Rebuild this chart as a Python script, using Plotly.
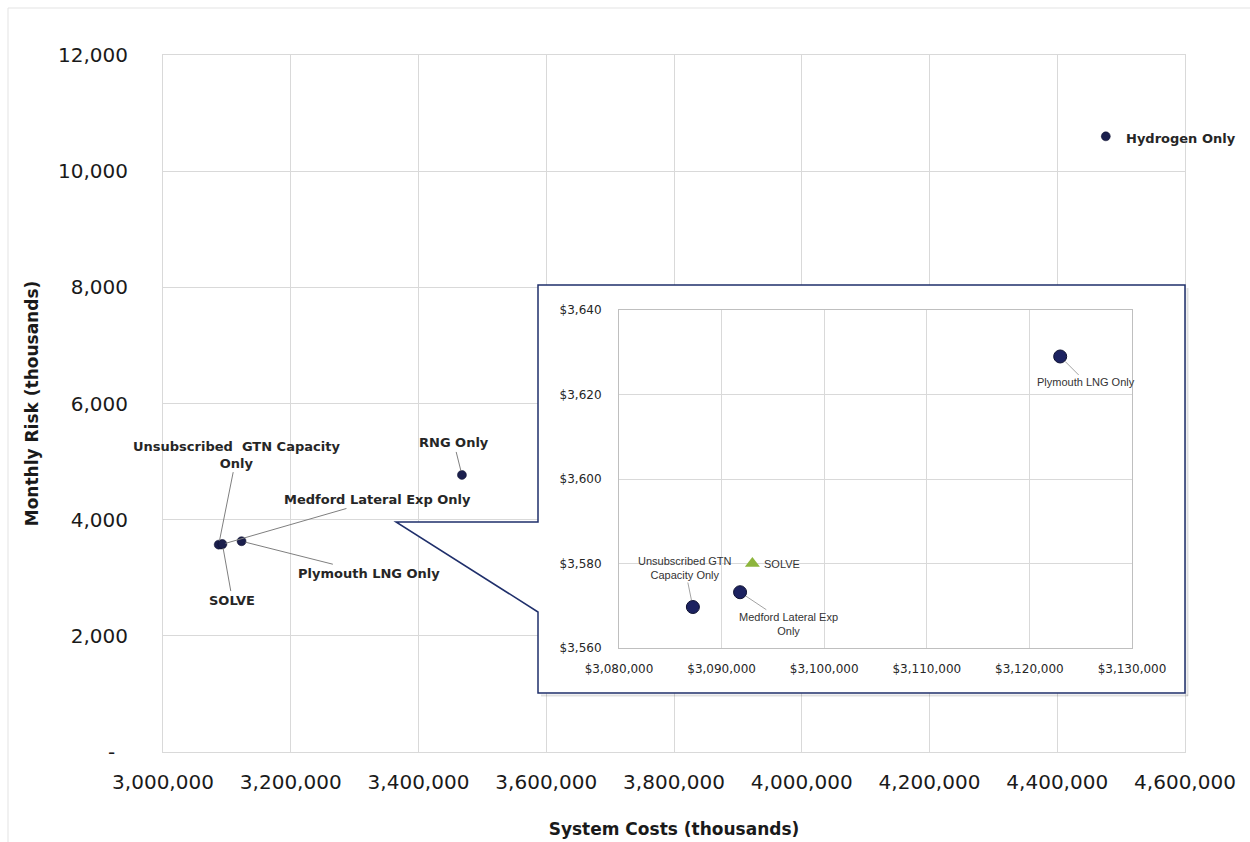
import plotly.graph_objects as go

# ---------------- data ----------------
names = ["Hydrogen Only", "RNG Only", "Plymouth LNG Only",
         "Medford Lateral Exp Only", "Unsubscribed GTN Capacity Only", "SOLVE"]
system_costs = [4476000, 3468000, 3123000, 3091800, 3087200, 3093000]
monthly_risk = [10600, 4770, 3629, 3573, 3570, 3580]

inset_names = ["Plymouth LNG Only", "Medford Lateral Exp Only", "Unsubscribed GTN Capacity Only"]
inset_costs = [3123000, 3091800, 3087200]
inset_risk = [3629, 3573.2, 3569.7]
solve_cost = [3093000]
solve_risk = [3580]

main_x_ticks = [3000000, 3200000, 3400000, 3600000, 3800000, 4000000, 4200000, 4400000, 4600000]
main_y_ticks = [0, 2000, 4000, 6000, 8000, 10000, 12000]
main_y_text = ["-\u00a0\u00a0", "2,000", "4,000", "6,000", "8,000", "10,000", "12,000"]
inset_x_ticks = [3080000, 3090000, 3100000, 3110000, 3120000, 3130000]
inset_y_ticks = [3560, 3580, 3600, 3620, 3640]
inset_x_text = ["&#36;{:,}".format(v) for v in inset_x_ticks]
inset_y_text = ["&#36;{:,}".format(v) for v in inset_y_ticks]

# ---------------- geometry helpers (pixel -> paper) ----------------
W, H = 1250, 842
L, R, T, B = 163, 1185, 55, 752


def px(p):
    return (p - L) / (R - L)


def py(p):
    return (B - p) / (B - T)


NAVY = "#1b1f4d"
GRID = "#d9d9d9"
TXT = "#262626"

fig = go.Figure()

# main scatter
fig.add_trace(go.Scatter(
    x=system_costs, y=monthly_risk, mode="markers", text=names,
    marker=dict(size=9, color=NAVY, line=dict(width=0.5, color="#0d0f2a")),
    xaxis="x", yaxis="y", showlegend=False, hoverinfo="text"))

# dummy subplot for the white callout box
fig.add_trace(go.Scatter(x=[], y=[], xaxis="x2", yaxis="y2", showlegend=False, hoverinfo="skip"))

# inset scatter
fig.add_trace(go.Scatter(
    x=inset_costs, y=inset_risk, mode="markers", text=inset_names,
    marker=dict(size=13, color="#1c2260", line=dict(width=1, color="#0d1030")),
    xaxis="x3", yaxis="y3", showlegend=False, hoverinfo="text"))
fig.add_trace(go.Scatter(
    x=solve_cost, y=solve_risk, mode="markers", text=["SOLVE"],
    marker=dict(size=13, symbol="triangle-up", color="#8db53c"),
    xaxis="x3", yaxis="y3", showlegend=False, hoverinfo="text"))

main_font = dict(family="DejaVu Sans", size=20, color="#1a1a1a")
inset_font = dict(family="DejaVu Sans", size=12, color="#262626")

layout = dict(
    width=W, height=H,
    margin=dict(l=L, r=W - R, t=T, b=H - B, pad=0),
    paper_bgcolor="white", plot_bgcolor="white",
    xaxis=dict(domain=[0, 1], range=[3000000, 4600000], tickvals=main_x_ticks,
               tickformat=",d", tickfont=main_font, showgrid=True, gridcolor=GRID,
               showline=True, linecolor=GRID, mirror=True, zeroline=False,
               ticks="", ticklabelstandoff=12, automargin=False,
               title=dict(text="System Costs (thousands)", standoff=30,
                          font=dict(family="DejaVu Sans", size=17, color="#1a1a1a", weight="bold"))),
    yaxis=dict(domain=[0, 1], range=[0, 12000], tickvals=main_y_ticks, ticktext=main_y_text,
               tickfont=main_font, showgrid=True, gridcolor=GRID,
               showline=True, linecolor=GRID, mirror=True, zeroline=False,
               ticks="", ticklabelstandoff=30, automargin=False,
               title=dict(text="Monthly Risk (thousands)", standoff=15,
                          font=dict(family="DejaVu Sans", size=17, color="#1a1a1a", weight="bold"))),
    xaxis2=dict(domain=[px(538), px(1185)], range=[0, 1], visible=False, anchor="y2"),
    yaxis2=dict(domain=[py(693), py(285)], range=[0, 1], visible=False, anchor="x2"),
    xaxis3=dict(domain=[px(619), px(1132)], range=[3080000, 3130000], tickvals=inset_x_ticks,
                ticktext=inset_x_text, tickfont=inset_font, showgrid=True,
                gridcolor=GRID, showline=True, linecolor="#bfbfbf", mirror=True,
                zeroline=False, ticks="", ticklabelstandoff=10, anchor="y3"),
    yaxis3=dict(domain=[py(648), py(310)], range=[3560, 3640], tickvals=inset_y_ticks,
                ticktext=inset_y_text, tickfont=inset_font, showgrid=True,
                gridcolor=GRID, showline=True, linecolor="#bfbfbf", mirror=True,
                zeroline=False, ticks="", ticklabelstandoff=14, anchor="x3"),
    showlegend=False,
)
fig.update_layout(**layout)

# ---------------- callout box shapes ----------------
# soft shadow below/right of the callout box
fig.add_shape(type="line", xref="paper", yref="paper", x0=px(541), x1=px(1188), y0=py(695.5), y1=py(695.5),
              line=dict(width=2, color="rgba(0,0,0,0.12)"))
fig.add_shape(type="line", xref="paper", yref="paper", x0=px(1187.5), x1=px(1187.5), y0=py(288), y1=py(696),
              line=dict(width=2, color="rgba(0,0,0,0.12)"))
tri = (f"M {px(538)},{py(522)} L {px(396)},{py(522)} L {px(538)},{py(612)} Z")
fig.add_shape(type="path", path=tri, xref="paper", yref="paper",
              fillcolor="white", line=dict(width=0), layer="above")
outline = (f"M {px(538)},{py(285)} L {px(1185)},{py(285)} L {px(1185)},{py(693)} "
           f"L {px(538)},{py(693)} L {px(538)},{py(612)} L {px(396)},{py(522)} "
           f"L {px(538)},{py(522)} Z")
fig.add_shape(type="path", path=outline, xref="paper", yref="paper",
              fillcolor="rgba(0,0,0,0)", line=dict(width=1.5, color="#1f2f6b"), layer="above")

# faint outer chart border (top & left)
fig.add_shape(type="line", xref="paper", yref="paper", x0=px(8), x1=px(1250), y0=py(8), y1=py(8),
              line=dict(width=1, color="#e3e3e3"))
fig.add_shape(type="line", xref="paper", yref="paper", x0=px(8), x1=px(8), y0=py(8), y1=py(842),
              line=dict(width=1, color="#e3e3e3"))

# ---------------- annotations ----------------
lab_font = dict(family="DejaVu Sans", size=13, color=TXT, weight="bold")
lead = dict(showarrow=True, arrowhead=0, arrowwidth=1, arrowcolor="#7f7f7f", standoff=4)

main_labels = [
    # name index, text, ax, ay
    (4, "Unsubscribed  GTN Capacity<br>Only", 18, -90),
    (3, "Medford Lateral Exp Only", 156, -45),
    (2, "Plymouth LNG Only", 127, 32),
    (5, "SOLVE", 10, 56),
    (1, "RNG Only", -8, -32),
]
for idx, txt, ax, ay in main_labels:
    fig.add_annotation(x=system_costs[idx], y=monthly_risk[idx], xref="x", yref="y",
                       text=txt, ax=ax, ay=ay, font=lab_font, **lead)
fig.add_annotation(x=system_costs[0], y=monthly_risk[0], xref="x", yref="y",
                   text=names[0], showarrow=False, xanchor="left", xshift=18, yshift=-2,
                   font=lab_font)

in_font = dict(family="Liberation Sans", size=11, color="#333333")
lead2 = dict(showarrow=True, arrowhead=0, arrowwidth=0.8, arrowcolor="#8c8c8c", standoff=7)
fig.add_annotation(x=inset_costs[0], y=inset_risk[0], xref="x3", yref="y3",
                   text="Plymouth LNG Only", ax=26, ay=26, font=in_font, **lead2)
fig.add_annotation(x=inset_costs[1], y=inset_risk[1], xref="x3", yref="y3",
                   text="Medford Lateral Exp<br>Only", ax=48, ay=32, font=in_font, **lead2)
fig.add_annotation(x=inset_costs[2], y=inset_risk[2], xref="x3", yref="y3",
                   text="Unsubscribed GTN<br>Capacity Only", ax=-8, ay=-39, font=in_font, **lead2)
fig.add_annotation(x=solve_cost[0], y=solve_risk[0], xref="x3", yref="y3",
                   text="SOLVE", showarrow=False, xanchor="left", xshift=10, font=in_font)

fig.write_html("out.html", config={"displayModeBar": False},
               post_script="document.body.style.margin='0';document.body.style.overflow='hidden';")
